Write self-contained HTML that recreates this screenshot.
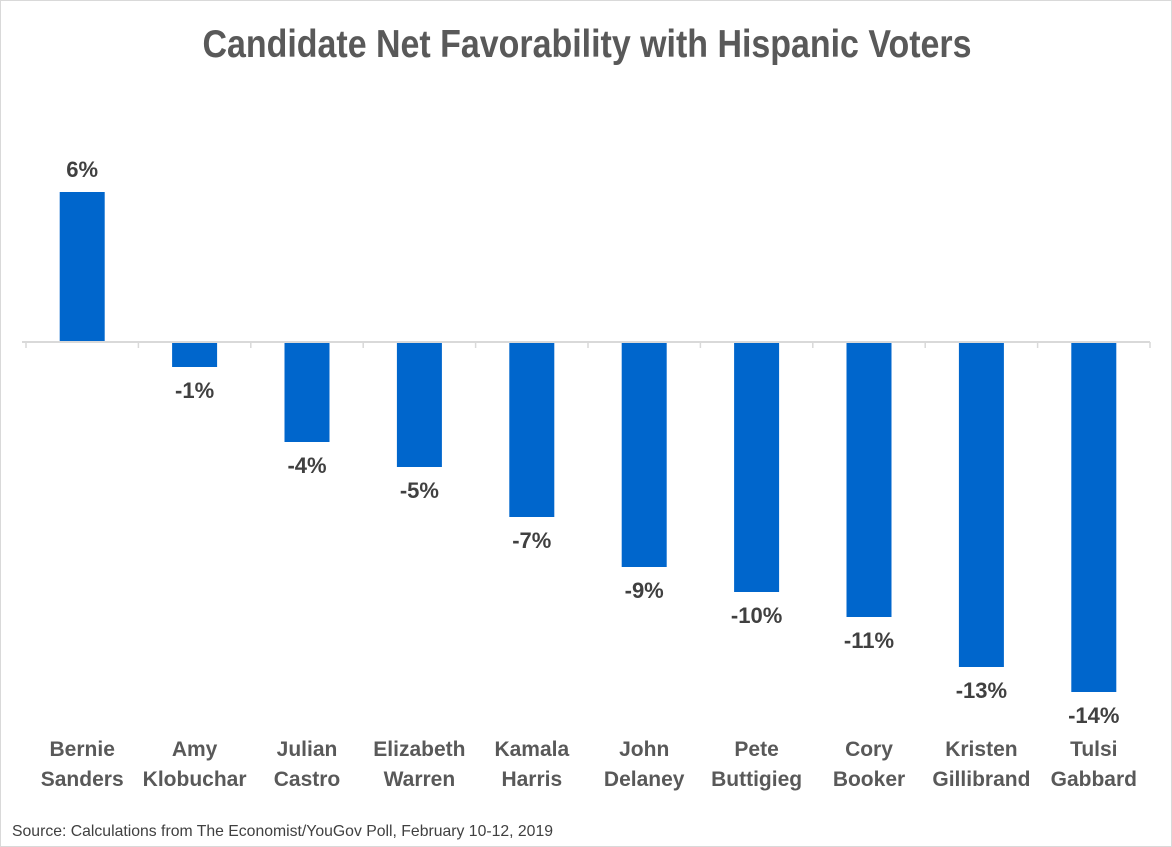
<!DOCTYPE html>
<html><head><meta charset="utf-8"><style>
body{margin:0;background:#fff}
svg{display:block}
text{font-family:"Liberation Sans Narrow","Liberation Sans",sans-serif;font-weight:bold}
</style></head><body>
<svg id="chart" width="1172" height="847" viewBox="0 0 1172 847">
<rect x="0.5" y="0.5" width="1171" height="846" fill="#fff" stroke="#d9d9d9"/>
<text x="587" y="57" text-anchor="middle" font-size="39" fill="#595959" textLength="769" lengthAdjust="spacingAndGlyphs">Candidate Net Favorability with Hispanic Voters</text>
<g id="plot"></g>
<text x="12" y="836" font-size="16" style="font-weight:normal" fill="#404040" textLength="541" lengthAdjust="spacingAndGlyphs">Source: Calculations from The Economist/YouGov Poll, February 10-12, 2019</text>
</svg>
<script>
const firstNames = ["Bernie","Amy","Julian","Elizabeth","Kamala","John","Pete","Cory","Kristen","Tulsi"];
const lastNames = ["Sanders","Klobuchar","Castro","Warren","Harris","Delaney","Buttigieg","Booker","Gillibrand","Gabbard"];
const values = [6,-1,-4,-5,-7,-9,-10,-11,-13,-14];
const valueLabels = ["6%","-1%","-4%","-5%","-7%","-9%","-10%","-11%","-13%","-14%"];

const NS="http://www.w3.org/2000/svg";
const plot=document.getElementById('plot');
const x0=26,x1=1150,band=(x1-x0)/values.length,barW=45;
const y0=342,pxPer=25;
const y=v=>y0-v*pxPer;
const xc=i=>x0+band*(i+0.5);
function mk(tag,attrs,parent){const e=document.createElementNS(NS,tag);for(const k in attrs)e.setAttribute(k,attrs[k]);(parent||plot).appendChild(e);return e;}

values.forEach((v,i)=>{
  const r=mk('rect',{x:xc(i)-barW/2,y:Math.min(y(v),y0),width:barW,height:Math.abs(y(v)-y0),fill:'#0066cc'});
  
  
  const ly=v>=0?y(v)-15:y(v)+31;
  const t=mk('text',{x:xc(i),y:ly,'text-anchor':'middle','font-size':22,fill:'#404040'});
  t.textContent=valueLabels[i];
  
  
  const c=mk('text',{x:xc(i),'text-anchor':'middle','font-size':21,fill:'#595959'});
  
  
  const s1=mk('tspan',{x:xc(i),y:756},c);s1.textContent=firstNames[i];
  const s2=mk('tspan',{x:xc(i),y:786},c);s2.textContent=lastNames[i];
});
const ax=mk('line',{x1:22,y1:y0,x2:x1,y2:y0,stroke:'#d9d9d9','stroke-width':2});


for(let i=0;i<=values.length;i++){
  const tk=mk('line',{x1:x0+band*i,y1:y0,x2:x0+band*i,y2:y0+6,stroke:'#d9d9d9','stroke-width':1.5});
  
  
}
</script>
</body></html>
